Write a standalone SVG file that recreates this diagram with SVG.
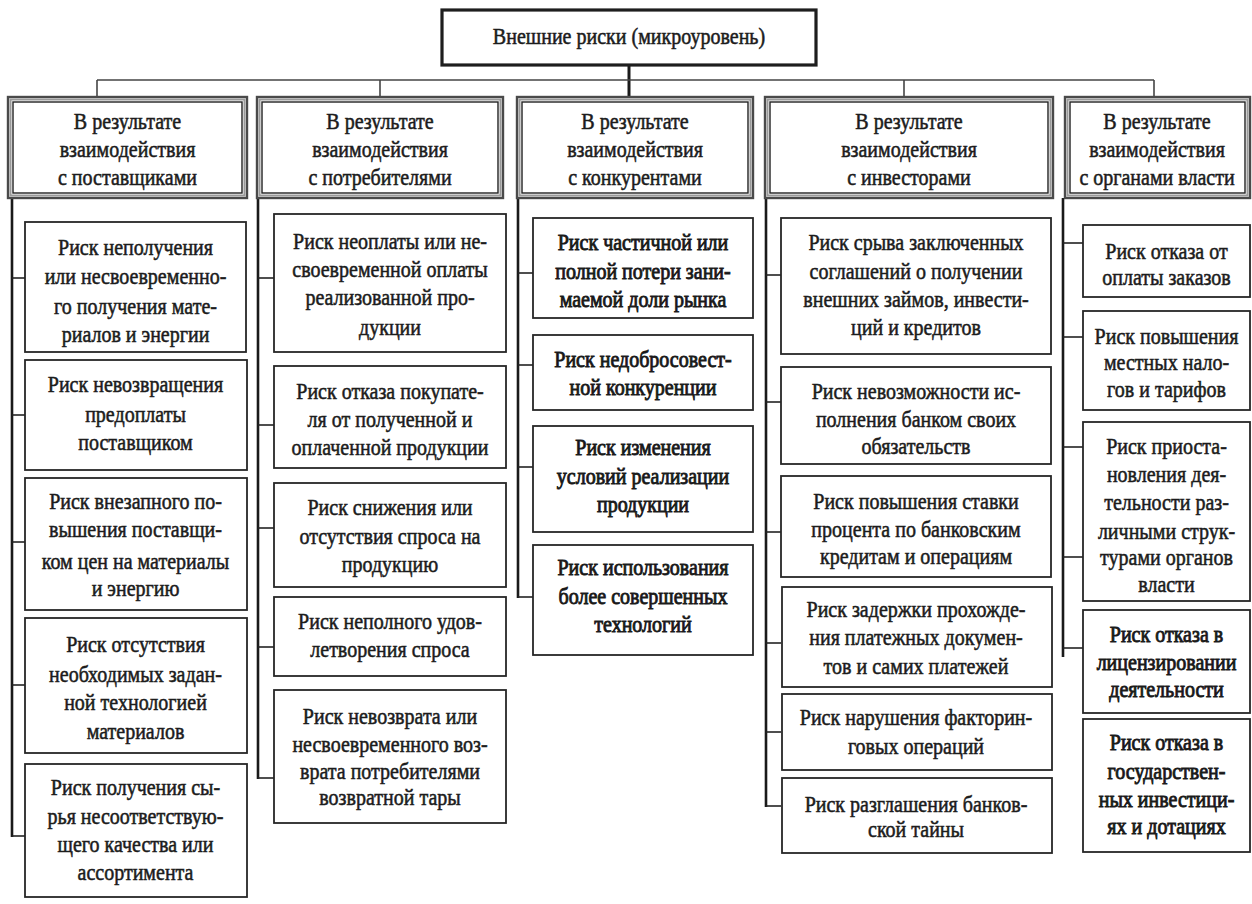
<svg xmlns="http://www.w3.org/2000/svg" width="1252" height="904" viewBox="0 0 1252 904">
  <style>
    .bg { fill: #ffffff; }
    .box { fill: #ffffff; stroke: #262626; stroke-width: 1.8; }
    .root { fill: #ffffff; stroke: #1e1e1e; stroke-width: 3.2; }
    .hdr-out { fill: #ffffff; stroke: #4a4a4a; stroke-width: 2.4; }
    .hdr-mid { fill: none; stroke: #9a9a9a; stroke-width: 2; }
    .hdr-in { fill: none; stroke: #222222; stroke-width: 1.4; }
    .bus { fill: none; stroke: #444444; stroke-width: 1.6; }
    .spine { fill: none; stroke: #1a1a1a; stroke-width: 2.6; }
    .tick { fill: none; stroke: #222222; stroke-width: 1.6; }
    .trunk { fill: none; stroke: #1a1a1a; stroke-width: 3; }
    text { font-family: "Liberation Serif", "Times New Roman", serif; font-size: 23px; fill: #1c1c1c; stroke: #1c1c1c; stroke-width: 0.55; text-anchor: middle; }
    .heavy { stroke-width: 0.9; fill: #141414; }
  </style>

  <rect class="bg" x="0" y="0" width="1252" height="904"/>

  <!-- connectors: trunk, bus, column spines and ticks -->
  <g id="connectors">
    <line class="trunk" x1="629" y1="65" x2="629" y2="97"/>
    <line class="bus" x1="97" y1="80" x2="1154" y2="80"/>
    <line class="bus" x1="97" y1="80" x2="97" y2="97"/>
    <line class="bus" x1="380" y1="80" x2="380" y2="97"/>
    <line class="bus" x1="904" y1="80" x2="904" y2="97"/>
    <line class="bus" x1="1154" y1="80" x2="1154" y2="97"/>

    <!-- column 1 -->
    <line class="spine" x1="12" y1="198" x2="12" y2="837"/>
    <line class="tick" x1="12" y1="278" x2="25" y2="278"/>
    <line class="tick" x1="12" y1="415" x2="25" y2="415"/>
    <line class="tick" x1="12" y1="542" x2="25" y2="542"/>
    <line class="tick" x1="12" y1="685" x2="25" y2="685"/>
    <line class="tick" x1="12" y1="836" x2="25" y2="836"/>

    <!-- column 2 -->
    <line class="spine" x1="258" y1="198" x2="258" y2="779"/>
    <line class="tick" x1="258" y1="278" x2="274" y2="278"/>
    <line class="tick" x1="258" y1="425" x2="274" y2="425"/>
    <line class="tick" x1="258" y1="528" x2="274" y2="528"/>
    <line class="tick" x1="258" y1="647" x2="274" y2="647"/>
    <line class="tick" x1="258" y1="778" x2="274" y2="778"/>

    <!-- column 3 -->
    <line class="spine" x1="518" y1="198" x2="518" y2="598"/>
    <line class="tick" x1="518" y1="273" x2="533" y2="273"/>
    <line class="tick" x1="518" y1="365" x2="533" y2="365"/>
    <line class="tick" x1="518" y1="467" x2="533" y2="467"/>
    <line class="tick" x1="518" y1="597" x2="533" y2="597"/>

    <!-- column 4 -->
    <line class="spine" x1="766" y1="198" x2="766" y2="807"/>
    <line class="tick" x1="766" y1="275" x2="781" y2="275"/>
    <line class="tick" x1="766" y1="402" x2="781" y2="402"/>
    <line class="tick" x1="766" y1="532" x2="781" y2="532"/>
    <line class="tick" x1="766" y1="643" x2="781" y2="643"/>
    <line class="tick" x1="766" y1="732" x2="781" y2="732"/>
    <line class="tick" x1="766" y1="806" x2="781" y2="806"/>

    <!-- column 5 -->
    <line class="spine" x1="1063" y1="198" x2="1063" y2="657"/>
    <line class="tick" x1="1063" y1="243" x2="1083" y2="243"/>
    <line class="tick" x1="1063" y1="337" x2="1083" y2="337"/>
    <line class="tick" x1="1063" y1="447" x2="1083" y2="447"/>
    <line class="tick" x1="1063" y1="557" x2="1083" y2="557"/>
    <line class="tick" x1="1063" y1="648" x2="1083" y2="648"/>
  </g>

  <!-- root -->
  <g id="root">
    <rect class="root" x="442" y="10" width="374" height="55"/>
    <text transform="matrix(0.87 0 0 1 629 0)"><tspan x="0" y="44">Внешние риски (микроуровень)</tspan></text>
  </g>

  <!-- column headers -->
  <g id="hdr-suppliers">
    <rect class="hdr-out" x="8" y="97" width="239" height="101"/>
    <rect class="hdr-mid" x="10.5" y="99.5" width="234" height="96"/>
    <rect class="hdr-in" x="13" y="102" width="229" height="91"/>
    <text transform="matrix(0.87 0 0 1 127.5 0)"><tspan x="0" y="129">В результате</tspan><tspan x="0" y="157">взаимодействия</tspan><tspan x="0" y="185">с поставщиками</tspan></text>
  </g>
  <g id="hdr-consumers">
    <rect class="hdr-out" x="257" y="97" width="246" height="101"/>
    <rect class="hdr-mid" x="259.5" y="99.5" width="241" height="96"/>
    <rect class="hdr-in" x="262" y="102" width="236" height="91"/>
    <text transform="matrix(0.87 0 0 1 380 0)"><tspan x="0" y="129">В результате</tspan><tspan x="0" y="157">взаимодействия</tspan><tspan x="0" y="185">с потребителями</tspan></text>
  </g>
  <g id="hdr-competitors">
    <rect class="hdr-out" x="517" y="97" width="236" height="101"/>
    <rect class="hdr-mid" x="519.5" y="99.5" width="231" height="96"/>
    <rect class="hdr-in" x="522" y="102" width="226" height="91"/>
    <text transform="matrix(0.87 0 0 1 635 0)"><tspan x="0" y="129">В результате</tspan><tspan x="0" y="157">взаимодействия</tspan><tspan x="0" y="185">с конкурентами</tspan></text>
  </g>
  <g id="hdr-investors">
    <rect class="hdr-out" x="765" y="97" width="288" height="101"/>
    <rect class="hdr-mid" x="767.5" y="99.5" width="283" height="96"/>
    <rect class="hdr-in" x="770" y="102" width="278" height="91"/>
    <text transform="matrix(0.87 0 0 1 909 0)"><tspan x="0" y="129">В результате</tspan><tspan x="0" y="157">взаимодействия</tspan><tspan x="0" y="185">с инвесторами</tspan></text>
  </g>
  <g id="hdr-authorities">
    <rect class="hdr-out" x="1065" y="97" width="185" height="101"/>
    <rect class="hdr-mid" x="1067.5" y="99.5" width="180" height="96"/>
    <rect class="hdr-in" x="1070" y="102" width="175" height="91"/>
    <text transform="matrix(0.87 0 0 1 1157 0)"><tspan x="0" y="129">В результате</tspan><tspan x="0" y="157">взаимодействия</tspan><tspan x="0" y="185">с органами власти</tspan></text>
  </g>

  <!-- column 1: suppliers -->
  <g id="sup-1">
    <rect class="box" x="25" y="222" width="221" height="130"/>
    <text transform="matrix(0.87 0 0 1 135.5 0)"><tspan x="0" y="255">Риск неполучения</tspan><tspan x="0" y="284">или несвоевременно-</tspan><tspan x="0" y="314">го получения мате-</tspan><tspan x="0" y="342">риалов и энергии</tspan></text>
  </g>
  <g id="sup-2">
    <rect class="box" x="25" y="360" width="222" height="110"/>
    <text transform="matrix(0.87 0 0 1 135.5 0)"><tspan x="0" y="392">Риск невозвращения</tspan><tspan x="0" y="422">предоплаты</tspan><tspan x="0" y="450">поставщиком</tspan></text>
  </g>
  <g id="sup-3">
    <rect class="box" x="25" y="478" width="222" height="132"/>
    <text transform="matrix(0.87 0 0 1 135.5 0)"><tspan x="0" y="509">Риск внезапного по-</tspan><tspan x="0" y="537">вышения поставщи-</tspan><tspan x="0" y="569">ком цен на материалы</tspan><tspan x="0" y="596">и энергию</tspan></text>
  </g>
  <g id="sup-4">
    <rect class="box" x="25" y="618" width="222" height="135"/>
    <text transform="matrix(0.87 0 0 1 135.5 0)"><tspan x="0" y="652">Риск отсутствия</tspan><tspan x="0" y="682">необходимых задан-</tspan><tspan x="0" y="710">ной технологией</tspan><tspan x="0" y="739">материалов</tspan></text>
  </g>
  <g id="sup-5">
    <rect class="box" x="25" y="764" width="222" height="133"/>
    <text transform="matrix(0.87 0 0 1 135.5 0)"><tspan x="0" y="795">Риск получения сы-</tspan><tspan x="0" y="824">рья несоответствую-</tspan><tspan x="0" y="852">щего качества или</tspan><tspan x="0" y="880">ассортимента</tspan></text>
  </g>

  <!-- column 2: consumers -->
  <g id="con-1">
    <rect class="box" x="274" y="214" width="232" height="138"/>
    <text transform="matrix(0.87 0 0 1 390 0)"><tspan x="0" y="249">Риск неоплаты или не-</tspan><tspan x="0" y="277">своевременной оплаты</tspan><tspan x="0" y="305">реализованной про-</tspan><tspan x="0" y="335">дукции</tspan></text>
  </g>
  <g id="con-2">
    <rect class="box" x="274" y="366" width="232" height="102"/>
    <text transform="matrix(0.87 0 0 1 390 0)"><tspan x="0" y="399">Риск отказа покупате-</tspan><tspan x="0" y="427">ля от полученной и</tspan><tspan x="0" y="455">оплаченной продукции</tspan></text>
  </g>
  <g id="con-3">
    <rect class="box" x="274" y="483" width="232" height="104"/>
    <text transform="matrix(0.87 0 0 1 390 0)"><tspan x="0" y="515">Риск снижения или</tspan><tspan x="0" y="544">отсутствия спроса на</tspan><tspan x="0" y="572">продукцию</tspan></text>
  </g>
  <g id="con-4">
    <rect class="box" x="274" y="597" width="232" height="79"/>
    <text transform="matrix(0.87 0 0 1 390 0)"><tspan x="0" y="629">Риск неполного удов-</tspan><tspan x="0" y="657">летворения спроса</tspan></text>
  </g>
  <g id="con-5">
    <rect class="box" x="274" y="690" width="232" height="133"/>
    <text transform="matrix(0.87 0 0 1 390 0)"><tspan x="0" y="724">Риск невозврата или</tspan><tspan x="0" y="752">несвоевременного воз-</tspan><tspan x="0" y="779">врата потребителями</tspan><tspan x="0" y="805">возвратной тары</tspan></text>
  </g>

  <!-- column 3: competitors -->
  <g id="cmp-1">
    <rect class="box" x="533" y="218" width="220" height="100"/>
    <text class="heavy" transform="matrix(0.87 0 0 1 643 0)"><tspan x="0" y="250">Риск частичной или</tspan><tspan x="0" y="279">полной потери зани-</tspan><tspan x="0" y="307">маемой доли рынка</tspan></text>
  </g>
  <g id="cmp-2">
    <rect class="box" x="533" y="335" width="220" height="75"/>
    <text class="heavy" transform="matrix(0.87 0 0 1 643 0)"><tspan x="0" y="367">Риск недобросовест-</tspan><tspan x="0" y="395">ной конкуренции</tspan></text>
  </g>
  <g id="cmp-3">
    <rect class="box" x="533" y="426" width="220" height="106"/>
    <text class="heavy" transform="matrix(0.87 0 0 1 643 0)"><tspan x="0" y="455">Риск изменения</tspan><tspan x="0" y="484">условий реализации</tspan><tspan x="0" y="512">продукции</tspan></text>
  </g>
  <g id="cmp-4">
    <rect class="box" x="533" y="545" width="220" height="110"/>
    <text class="heavy" transform="matrix(0.87 0 0 1 643 0)"><tspan x="0" y="575">Риск использования</tspan><tspan x="0" y="604">более совершенных</tspan><tspan x="0" y="632">технологий</tspan></text>
  </g>

  <!-- column 4: investors -->
  <g id="inv-1">
    <rect class="box" x="781" y="218" width="270" height="136"/>
    <text transform="matrix(0.87 0 0 1 916 0)"><tspan x="0" y="250">Риск срыва заключенных</tspan><tspan x="0" y="279">соглашений о получении</tspan><tspan x="0" y="307">внешних займов, инвести-</tspan><tspan x="0" y="335">ций и кредитов</tspan></text>
  </g>
  <g id="inv-2">
    <rect class="box" x="781" y="367" width="270" height="97"/>
    <text transform="matrix(0.87 0 0 1 916 0)"><tspan x="0" y="399">Риск невозможности ис-</tspan><tspan x="0" y="427">полнения банком своих</tspan><tspan x="0" y="454">обязательств</tspan></text>
  </g>
  <g id="inv-3">
    <rect class="box" x="781" y="476" width="270" height="101"/>
    <text transform="matrix(0.87 0 0 1 916 0)"><tspan x="0" y="509">Риск повышения ставки</tspan><tspan x="0" y="537">процента по банковским</tspan><tspan x="0" y="564">кредитам и операциям</tspan></text>
  </g>
  <g id="inv-4">
    <rect class="box" x="782" y="587" width="270" height="100"/>
    <text transform="matrix(0.87 0 0 1 916 0)"><tspan x="0" y="617">Риск задержки прохожде-</tspan><tspan x="0" y="645">ния платежных докумен-</tspan><tspan x="0" y="674">тов и самих платежей</tspan></text>
  </g>
  <g id="inv-5">
    <rect class="box" x="782" y="694" width="270" height="76"/>
    <text transform="matrix(0.87 0 0 1 916 0)"><tspan x="0" y="725">Риск нарушения факторин-</tspan><tspan x="0" y="754">говых операций</tspan></text>
  </g>
  <g id="inv-6">
    <rect class="box" x="782" y="778" width="270" height="75"/>
    <text transform="matrix(0.87 0 0 1 916 0)"><tspan x="0" y="812">Риск разглашения  банков-</tspan><tspan x="0" y="837">ской тайны</tspan></text>
  </g>

  <!-- column 5: authorities -->
  <g id="aut-1">
    <rect class="box" x="1083" y="225" width="167" height="72"/>
    <text transform="matrix(0.87 0 0 1 1166.5 0)"><tspan x="0" y="259">Риск отказа от</tspan><tspan x="0" y="285">оплаты заказов</tspan></text>
  </g>
  <g id="aut-2">
    <rect class="box" x="1083" y="311" width="167" height="99"/>
    <text transform="matrix(0.87 0 0 1 1166.5 0)"><tspan x="0" y="344">Риск повышения</tspan><tspan x="0" y="370">местных нало-</tspan><tspan x="0" y="397">гов и тарифов</tspan></text>
  </g>
  <g id="aut-3">
    <rect class="box" x="1083" y="422" width="167" height="179"/>
    <text transform="matrix(0.87 0 0 1 1166.5 0)"><tspan x="0" y="454">Риск приоста-</tspan><tspan x="0" y="482">новления дея-</tspan><tspan x="0" y="510">тельности раз-</tspan><tspan x="0" y="539">личными струк-</tspan><tspan x="0" y="565">турами органов</tspan><tspan x="0" y="592">власти</tspan></text>
  </g>
  <g id="aut-4">
    <rect class="box" x="1083" y="610" width="167" height="103"/>
    <text class="heavy" transform="matrix(0.87 0 0 1 1166.5 0)"><tspan x="0" y="642">Риск отказа в</tspan><tspan x="0" y="670">лицензировании</tspan><tspan x="0" y="697">деятельности</tspan></text>
  </g>
  <g id="aut-5">
    <rect class="box" x="1083" y="719" width="167" height="133"/>
    <text class="heavy" transform="matrix(0.87 0 0 1 1166.5 0)"><tspan x="0" y="750">Риск отказа в</tspan><tspan x="0" y="779">государствен-</tspan><tspan x="0" y="807">ных инвестици-</tspan><tspan x="0" y="834">ях и дотациях</tspan></text>
  </g>
</svg>
